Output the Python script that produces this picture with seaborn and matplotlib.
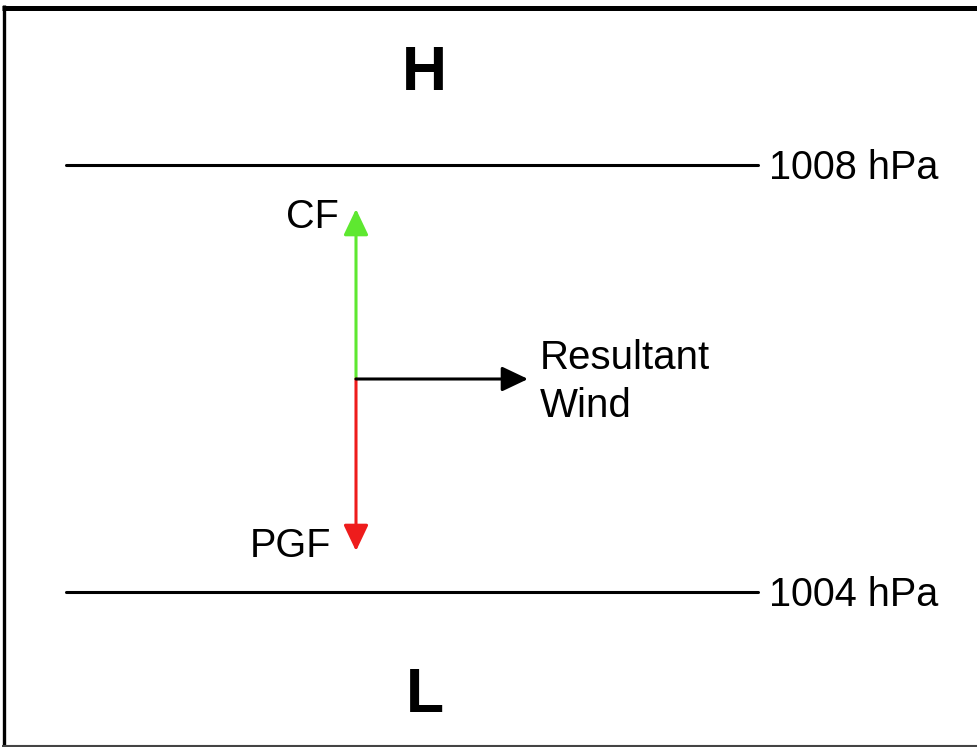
import matplotlib
matplotlib.use("Agg")
import matplotlib.pyplot as plt
import seaborn as sns
import pandas as pd

# ---- data ----
isobar_labels = ["1008 hPa", "1004 hPa"]
isobar_y = [165, 592]
isobar_x_start = [66, 66]
isobar_x_end = [758, 758]

vector_names = ["CF", "PGF", "Resultant\nWind"]
vector_origin = (356, 379)
vector_tips = [(356, 209), (356, 551), (528, 379)]
vector_colors = ["#5ee830", "#ee1c1c", "#000000"]

pressure_centers = ["H", "L"]
center_x = [424, 425]
center_y = [90, 712]

sns.set_theme(style="white")
plt.rcParams['font.family'] = ['Liberation Sans', 'DejaVu Sans']
plt.rcParams['text.color'] = 'black'

fig = plt.figure(figsize=(9.77, 7.47), dpi=100)
ax = fig.add_axes([0, 0, 1, 1])

# border
ax.plot([3.5, 3.5], [5, 747], color="black", lw=2.4, solid_capstyle="butt")
ax.plot([2, 977], [7.5, 7.5], color="black", lw=3.6, solid_capstyle="butt")
ax.plot([2, 977], [746, 746], color="#444444", lw=1.5, solid_capstyle="butt")

# isobars
rows = []
for lab, y, x0, x1 in zip(isobar_labels, isobar_y, isobar_x_start, isobar_x_end):
    rows.append({"level": lab, "x": x0, "y": y})
    rows.append({"level": lab, "x": x1, "y": y})
df = pd.DataFrame(rows)
sns.lineplot(data=df, x="x", y="y", units="level", estimator=None,
             color="black", lw=2.2, ax=ax, legend=False)
for lab, y, x1 in zip(isobar_labels, isobar_y, isobar_x_end):
    ax.text(x1 + 11, y + 14, lab, fontsize=28.5, ha="left", va="baseline", color="black")
ax.set_xlim(0, 977)
ax.set_ylim(747, 0)
ax.axis("off")

# vectors
for name, tip, col in zip(vector_names, vector_tips, vector_colors):
    ax.annotate("", xy=tip, xytext=vector_origin,
                arrowprops=dict(arrowstyle="-|>,head_length=0.8,head_width=0.38",
                                mutation_scale=20, color=col, lw=2.2,
                                shrinkA=0, shrinkB=0))

ax.text(339, 228, vector_names[0], fontsize=28.5, ha="right", va="baseline", color="black")
ax.text(331, 557, vector_names[1], fontsize=28.5, ha="right", va="baseline", color="black")
ax.text(540, 369, "Resultant", fontsize=29, ha="left", va="baseline", color="black")
ax.text(540, 417, "Wind", fontsize=29, ha="left", va="baseline", color="black")

for lab, x, y in zip(pressure_centers, center_x, center_y):
    ax.text(x, y, lab, fontsize=45, fontweight="bold", ha="center", va="baseline", color="black")

fig.savefig("out.png", dpi=100)
